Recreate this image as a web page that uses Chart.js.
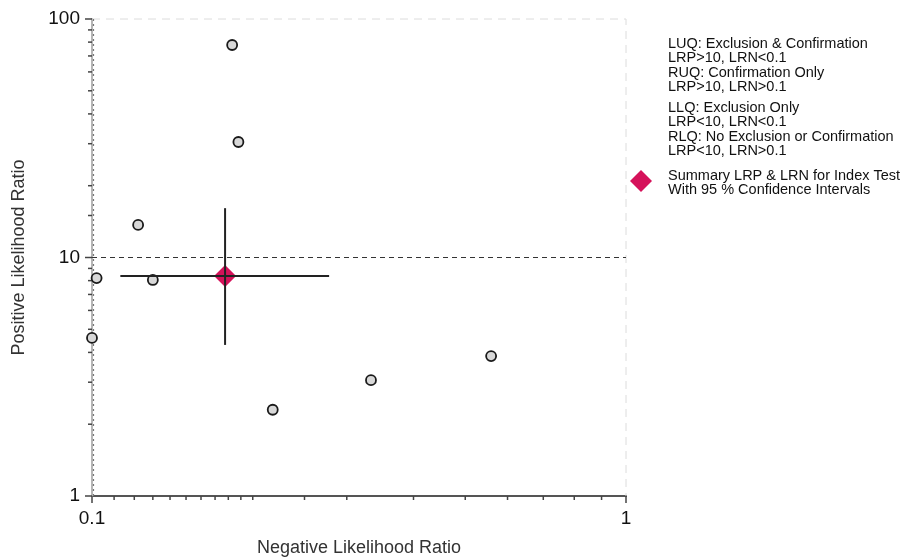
<!DOCTYPE html>
<html>
<head>
<meta charset="utf-8">
<script src="https://cdn.jsdelivr.net/npm/chart.js@4.4.1/dist/chart.umd.min.js"></script>
<style>
  html, body { margin: 0; padding: 0; background: #fff; }
</style>
</head>
<body>
<canvas id="lrChart" width="911" height="559"></canvas>
<script>
// ─── Data ─────────────────────────────────────────────────────────────────────

// individual studies: negative LR (x) and positive LR (y)
const studyLRN = [0.183, 0.188, 0.122, 0.102, 0.130, 0.100, 0.218, 0.333, 0.559];
const studyLRP = [77.8, 30.5, 13.7, 8.2, 8.05, 4.6, 2.30, 3.06, 3.86];

// summary point and its 95% confidence intervals
const summaryLRN = 0.1775;
const summaryLRP = 8.36;
const summaryLRNci = [0.113, 0.278];
const summaryLRPci = [4.30, 16.1];

// threshold for the quadrant line
const lrpThreshold = 10;

const xTickLabels = [0.1, 1];
const yTickLabels = [1, 10, 100];

const legendLines = [
  'LUQ: Exclusion & Confirmation',
  'LRP>10, LRN<0.1',
  'RUQ: Confirmation Only',
  'LRP>10, LRN>0.1',
  'LLQ: Exclusion Only',
  'LRP<10, LRN<0.1',
  'RLQ: No Exclusion or Confirmation',
  'LRP<10, LRN>0.1',
  'Summary LRP & LRN for Index Test',
  'With 95 % Confidence Intervals',
];

// ─── Styling ──────────────────────────────────────────────────────────────────

const FONT = "'Liberation Sans', Arial, Helvetica, sans-serif";
const SUMMARY_COLOR = '#d5125a';

const isMajor = (v, list) => list.some(m => Math.abs(v - m) < 1e-9);

// ─── Custom drawing: frame, ticks, threshold line, legend ─────────────────────

const framePlugin = {
  id: 'frame',
  beforeDatasetsDraw(chart) {
    const { ctx, chartArea: a, scales: { x, y } } = chart;
    ctx.save();
    // light dashed top/right frame
    ctx.strokeStyle = '#dcdcdc';
    ctx.lineWidth = 1;
    ctx.setLineDash([8, 6]);
    ctx.beginPath();
    ctx.moveTo(a.left, a.top);
    ctx.lineTo(a.right, a.top);
    ctx.lineTo(a.right, a.bottom);
    ctx.stroke();

    // dashed overlay on the left axis (LRN = 0.1)
    const x01 = x.getPixelForValue(0.1) + 1.5;
    ctx.strokeStyle = '#777';
    ctx.lineWidth = 1.2;
    ctx.setLineDash([2, 3]);
    ctx.beginPath();
    ctx.moveTo(x01, a.top);
    ctx.lineTo(x01, a.bottom);
    ctx.stroke();
    ctx.setLineDash([]);

    // tick marks
    ctx.strokeStyle = '#444';
    ctx.lineWidth = 1.5;
    y.ticks.forEach(t => {
      const py = y.getPixelForValue(t.value);
      const len = isMajor(t.value, yTickLabels) ? 7 : 4;
      ctx.beginPath();
      ctx.moveTo(a.left, py);
      ctx.lineTo(a.left - len, py);
      ctx.stroke();
    });
    x.ticks.forEach(t => {
      const px = x.getPixelForValue(t.value);
      const len = isMajor(t.value, xTickLabels) ? 7 : 4;
      ctx.beginPath();
      ctx.moveTo(px, a.bottom);
      ctx.lineTo(px, a.bottom + len);
      ctx.stroke();
    });
    ctx.restore();
  },
  afterDraw(chart) {
    const { ctx } = chart;
    ctx.save();
    ctx.fillStyle = '#111';
    ctx.font = `14.5px ${FONT}`;
    ctx.textBaseline = 'middle';
    const ys = [44, 58, 73, 87, 108, 122, 137, 151, 176, 190];
    legendLines.forEach((s, i) => ctx.fillText(s, 668, ys[i]));

    // summary marker in the legend
    const cx = 641, cy = 181, r = 11;
    ctx.fillStyle = SUMMARY_COLOR;
    ctx.beginPath();
    ctx.moveTo(cx, cy - r);
    ctx.lineTo(cx + r, cy);
    ctx.lineTo(cx, cy + r);
    ctx.lineTo(cx - r, cy);
    ctx.closePath();
    ctx.fill();
    ctx.restore();
  }
};

// ─── Chart ────────────────────────────────────────────────────────────────────

const studyPoints = studyLRN.map((v, i) => ({ x: v, y: studyLRP[i] }));

new Chart(document.getElementById('lrChart'), {
  type: 'scatter',
  data: {
    datasets: [
      {
        label: 'LRN CI',
        data: summaryLRNci.map(v => ({ x: v, y: summaryLRP })),
        showLine: true,
        borderColor: '#222',
        borderWidth: 2,
        pointRadius: 0,
        order: 0,
      },
      {
        label: 'LRP CI',
        data: summaryLRPci.map(v => ({ x: summaryLRN, y: v })),
        showLine: true,
        borderColor: '#222',
        borderWidth: 2,
        pointRadius: 0,
        order: 0,
      },
      {
        label: 'Summary',
        data: [{ x: summaryLRN, y: summaryLRP }],
        pointStyle: 'rectRot',
        pointRadius: 11,
        backgroundColor: SUMMARY_COLOR,
        borderColor: SUMMARY_COLOR,
        borderWidth: 0,
        order: 1,
      },
      {
        label: 'LRP = 10',
        data: [{ x: 0.1, y: lrpThreshold }, { x: 1, y: lrpThreshold }],
        showLine: true,
        borderColor: '#333',
        borderWidth: 1.2,
        borderDash: [5, 4],
        pointRadius: 0,
        order: 3,
      },
      {
        label: 'Studies',
        data: studyPoints,
        pointStyle: 'circle',
        pointRadius: 5,
        backgroundColor: '#d8d8d8',
        borderColor: '#1a1a1a',
        borderWidth: 1.8,
        clip: false,
        order: 2,
      },
    ]
  },
  options: {
    responsive: false,
    animation: false,
    devicePixelRatio: 1,
    layout: { padding: { top: 19, right: 285, left: 0, bottom: 0 } },
    plugins: {
      legend: { display: false },
      tooltip: { enabled: false },
    },
    scales: {
      x: {
        type: 'logarithmic',
        min: 0.1,
        max: 1,
        afterFit: s => { s.height = 63; s.paddingLeft = 0; s.paddingRight = 0; },
        grid: { display: false, drawTicks: false },
        border: { display: true, color: '#555', width: 2 },
        ticks: {
          autoSkip: false,
          maxRotation: 0,
          padding: 11,
          color: '#111',
          font: { family: FONT, size: 19 },
          callback: v => isMajor(v, xTickLabels) ? String(v) : '',
        },
        title: {
          display: true,
          text: 'Negative Likelihood Ratio',
          color: '#333',
          font: { family: FONT, size: 18 },
          padding: { top: 0, bottom: 0 },
        },
      },
      y: {
        type: 'logarithmic',
        min: 1,
        max: 100,
        afterFit: s => { s.width = 92; s.paddingTop = 0; s.paddingBottom = 0; },
        grid: { display: false, drawTicks: false },
        border: { display: true, color: '#b5b5b5', width: 2 },
        ticks: {
          autoSkip: false,
          padding: 12,
          color: '#111',
          font: { family: FONT, size: 19 },
          callback: v => isMajor(v, yTickLabels) ? String(v) : '',
        },
        title: {
          display: true,
          text: 'Positive Likelihood Ratio',
          color: '#333',
          font: { family: FONT, size: 18 },
          padding: { top: 8, bottom: 0 },
        },
      }
    }
  },
  plugins: [framePlugin]
});
</script>
</body>
</html>
